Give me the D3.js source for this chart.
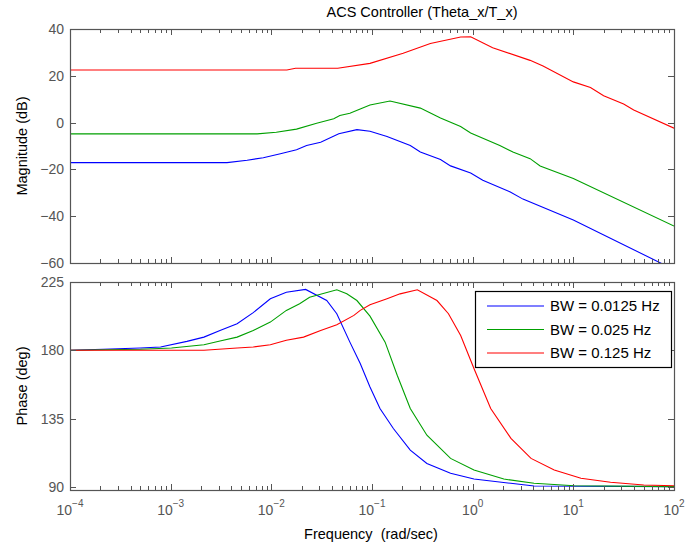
<!DOCTYPE html>
<html><head><meta charset="utf-8">
<script src="https://cdn.jsdelivr.net/npm/d3@7"></script>
<style>
body{margin:0;background:#fff;}
text{font-family:"Liberation Sans",Arial,Helvetica,sans-serif;}
</style></head>
<body><svg id="c" width="685" height="546"></svg>
<script>
const title = "ACS Controller (Theta_x/T_x)";
const seriesNames = ["BW = 0.0125 Hz", "BW = 0.025 Hz", "BW = 0.125 Hz"];
const seriesColors = ["#0000ff", "#00a000", "#ff0000"];
const xTickExps = [-4, -3, -2, -1, 0, 1, 2];
const magTicks = [40, 20, 0, -20, -40, -60];
const phaseTicks = [225, 180, 135, 90];

// Magnitude (dB): [freq rad/s, dB]
const magBlue = [[1e-4,-17.1],[0.00363,-17.1],[0.00575,-16.1],[0.00832,-15],[0.0123,-13.3],[0.0178,-11.6],[0.0224,-9.8],[0.0309,-8.4],[0.0468,-4.8],[0.0708,-3.0],[0.0955,-3.7],[0.141,-5.9],[0.24,-9.8],[0.302,-12.6],[0.479,-15.8],[0.603,-18.5],[0.955,-21.5],[1.26,-24.6],[2.34,-29.6],[3.16,-32.7],[10,-41.6],[79.4,-60.7],[100,-62.8]];
const magGreen = [[1e-4,-4.8],[0.00724,-4.8],[0.0112,-4.1],[0.0178,-2.8],[0.0282,-0.3],[0.0417,1.6],[0.0479,3.0],[0.0603,4.0],[0.0764,5.8],[0.0955,7.5],[0.151,9.2],[0.302,6.2],[0.479,2.0],[0.759,-1.7],[0.955,-4.4],[1.86,-9.8],[2.51,-12.6],[3.72,-15.4],[4.68,-18.5],[10,-23.9],[100,-44.2]];
const magRed = [[1e-4,22.5],[0.01426,22.5],[0.0174,23.2],[0.0457,23.2],[0.0955,25.3],[0.204,29.6],[0.38,33.8],[0.76,36.6],[0.955,36.7],[1.58,32],[3.72,26.6],[5.0,24.2],[10,17.4],[14.8,15],[20,11.5],[31.6,7.9],[39.8,5.4],[100,-2.4]];

// Phase (deg): [freq rad/s, deg]
const phBlue = [[1e-4,180],[0.000214,180.7],[0.0005,181.5],[0.000794,182.2],[0.00145,185.9],[0.00214,188.7],[0.00309,193.1],[0.00457,197.5],[0.00661,204.8],[0.00977,214],[0.0141,218.3],[0.0219,220.1],[0.0355,212.8],[0.0447,204.1],[0.0603,185.4],[0.0764,171.3],[0.0955,155.9],[0.12,141.7],[0.163,128.5],[0.24,114.3],[0.351,105.5],[0.603,99],[1.03,95.2],[2.39,92.4],[4.07,90.6],[100,90.2]];
const phGreen = [[1e-4,180],[0.0005,180.7],[0.00102,181.5],[0.00214,183.7],[0.00309,186.1],[0.00457,188.7],[0.00661,193.1],[0.00977,198.6],[0.0141,206.3],[0.0191,210.7],[0.024,215],[0.0447,219.9],[0.0562,217.2],[0.0708,212.8],[0.0955,202.5],[0.135,185.4],[0.178,163.6],[0.24,141.7],[0.351,124.1],[0.603,108.8],[1.03,101.1],[2.04,95.2],[4.07,92.4],[10.2,90.8],[100,90.2]];
const phRed = [[1e-4,180],[0.00214,180],[0.00457,181.5],[0.00661,182.2],[0.00977,183.7],[0.0141,186.6],[0.0209,188.7],[0.0309,193.1],[0.0447,196.9],[0.0661,203],[0.0764,206.3],[0.0955,210],[0.141,214],[0.19,217.2],[0.282,219.9],[0.442,212.8],[0.575,204.1],[0.76,189.8],[1.03,168],[1.51,141.7],[2.4,122],[3.8,108.8],[6.46,101.1],[11.9,95.7],[23.4,93.1],[50.1,91.3],[100,90.8]];

const svg = d3.select("#c");
const x = d3.scaleLog().domain([1e-4, 1e2]).range([70, 674]);
const yMag = d3.scaleLinear().domain([-60, 40]).range([263, 29]);
const yPh = d3.scaleLinear().domain([88, 225]).range([490, 282]);
const axisCol = "#555";
const labCol = "#555";

function panel(y, yticks, data, id, fmt) {
  const [x0, x1] = x.range().map(Math.round);
  const [yb, yt] = y.range().map(Math.round);
  const g = svg.append("g");
  g.append("clipPath").attr("id", id).append("rect")
    .attr("x", x0).attr("y", yt).attr("width", x1 - x0).attr("height", yb - yt);
  const line = d3.line().x(d => x(d[0])).y(d => y(d[1]));
  const lg = g.append("g").attr("clip-path", `url(#${id})`);
  data.forEach((s, i) => {
    lg.append("path").attr("d", line(s)).attr("fill", "none")
      .attr("stroke", seriesColors[i]).attr("stroke-width", 1.1);
  });
  const ticks = x.ticks();
  ticks.forEach(t => {
    const e = Math.log10(t);
    const major = Math.abs(e - Math.round(e)) < 1e-9;
    const px = Math.round(x(t)) + 0.5;
    const len = major ? 6 : 4;
    g.append("line").attr("x1", px).attr("x2", px).attr("y1", yb).attr("y2", yb - len).attr("stroke", axisCol);
    g.append("line").attr("x1", px).attr("x2", px).attr("y1", yt).attr("y2", yt + len).attr("stroke", axisCol);
  });
  yticks.forEach(v => {
    const py = Math.round(y(v)) + 0.5;
    g.append("line").attr("x1", x0).attr("x2", x0 + 6).attr("y1", py).attr("y2", py).attr("stroke", axisCol);
    g.append("line").attr("x1", x1).attr("x2", x1 - 6).attr("y1", py).attr("y2", py).attr("stroke", axisCol);
    g.append("text").attr("x", x0 - 6).attr("y", y(v)).attr("dy", "0.35em")
      .attr("text-anchor", "end").attr("font-size", 14).attr("fill", labCol)
      .text(fmt(v));
  });
  g.append("rect").attr("x", x0 + 0.5).attr("y", yt + 0.5).attr("width", x1 - x0).attr("height", yb - yt)
    .attr("fill", "none").attr("stroke", axisCol).attr("stroke-width", 1.2);
  return g;
}

const minusFmt = v => (v < 0 ? "\u2212" + Math.abs(v) : String(v));
panel(yMag, magTicks, [magBlue, magGreen, magRed], "clipMag", minusFmt);
panel(yPh, phaseTicks, [phBlue, phGreen, phRed], "clipPh", minusFmt);

xTickExps.forEach(e => {
  const t = svg.append("text").attr("x", x(Math.pow(10, e))).attr("y", 515)
    .attr("text-anchor", "middle").attr("font-size", 14).attr("fill", labCol);
  t.append("tspan").text("10");
  t.append("tspan").attr("font-size", 10).attr("dy", -8).text(e < 0 ? "\u2212" + Math.abs(e) : String(e));
});

svg.append("text").attr("x", 422).attr("y", 17).attr("text-anchor", "middle")
  .attr("font-size", 14.5).attr("fill", "#000").text(title);
svg.append("text").attr("x", 371).attr("y", 539).attr("text-anchor", "middle")
  .attr("font-size", 14.5).attr("fill", "#000").attr("xml:space", "preserve").text("Frequency  (rad/sec)");
svg.append("text").attr("transform", `translate(27,${(yMag.range()[0] + yMag.range()[1]) / 2}) rotate(-90)`)
  .attr("text-anchor", "middle").attr("font-size", 14.5).attr("fill", "#000").text("Magnitude (dB)");
svg.append("text").attr("transform", `translate(27,${(yPh.range()[0] + yPh.range()[1]) / 2}) rotate(-90)`)
  .attr("text-anchor", "middle").attr("font-size", 14.5).attr("fill", "#000").text("Phase (deg)");

const lgd = svg.append("g");
lgd.append("rect").attr("x", 475.5).attr("y", 291.5).attr("width", 196).attr("height", 76)
  .attr("fill", "#fff").attr("stroke", "#000").attr("stroke-width", 1.2);
seriesNames.forEach((n, i) => {
  const yy = 306 + i * 23.5;
  lgd.append("line").attr("x1", 487).attr("x2", 544).attr("y1", yy).attr("y2", yy)
    .attr("stroke", seriesColors[i]).attr("stroke-width", 1.1);
  lgd.append("text").attr("x", 550).attr("y", yy).attr("dy", "0.35em")
    .attr("font-size", 15).attr("fill", "#000").text(n);
});
</script></body></html>
